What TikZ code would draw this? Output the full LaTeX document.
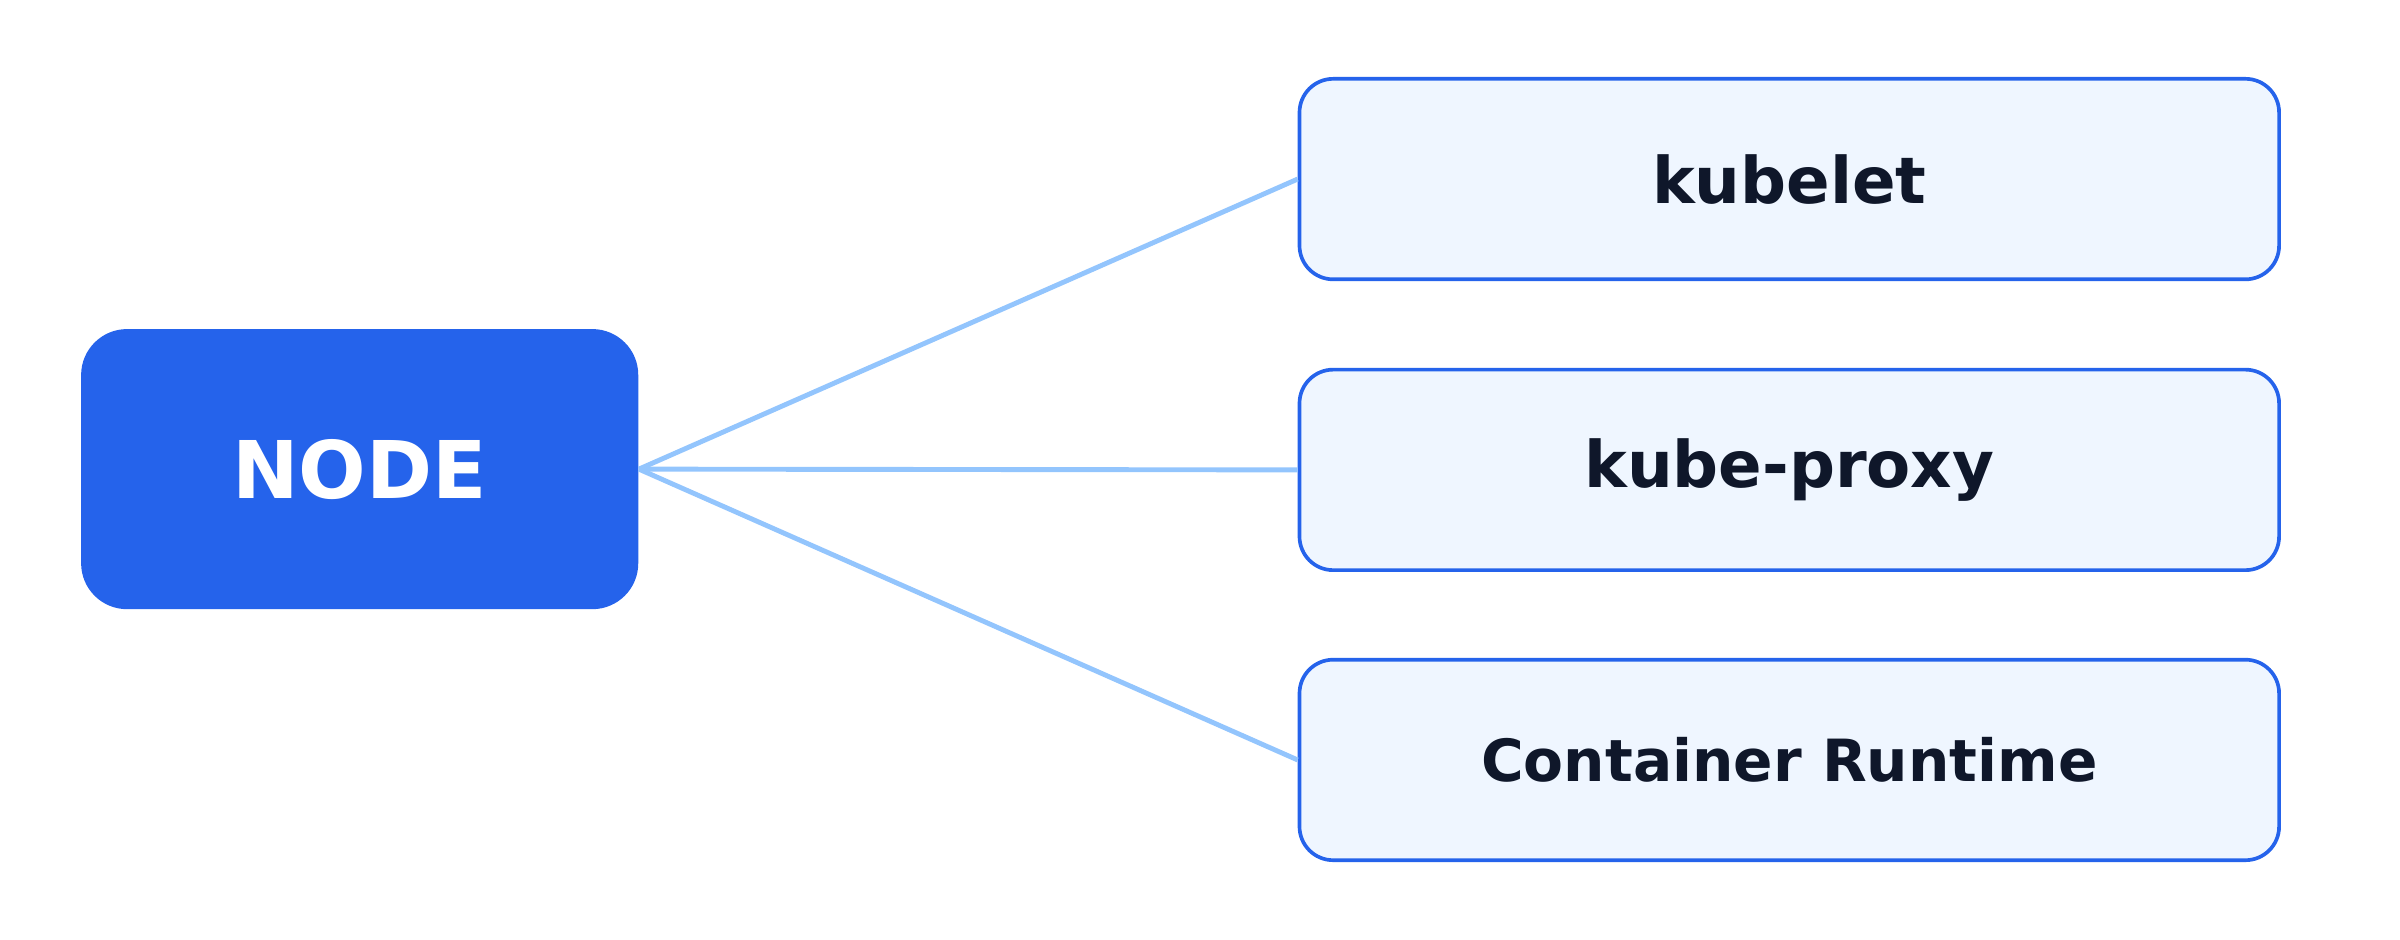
\documentclass[tikz,border=0pt]{standalone}
\usepackage{fontspec}
\setmainfont{DejaVu Sans}
\usetikzlibrary{positioning}
\definecolor{nodeblue}{HTML}{2563EB}
\definecolor{boxfill}{HTML}{EFF6FF}
\definecolor{linkblue}{HTML}{93C5FD}
\definecolor{inkdark}{HTML}{0F172A}

\tikzset{
  main/.style={draw=none, fill=nodeblue, rounded corners=15pt,
    minimum width=182pt, minimum height=91.5pt, text=white,
    font=\bfseries\fontsize{26}{30}\selectfont},
  part/.style={draw=nodeblue, line width=1.2pt, fill=boxfill, rounded corners=11pt,
    minimum width=320pt, minimum height=65.5pt, text=inkdark,
    font=\bfseries\fontsize{21}{25}\selectfont},
  link/.style={draw=linkblue, line width=1.6pt}
}

\begin{document}
\begin{tikzpicture}[x=0.5pt, y=-0.5pt]
  \useasboundingbox (0,0) rectangle (1568,614);

  % Node
  \node[main] (node) at (235,306.5) {NODE};

  % Components
  \node[part] (kubelet) at (1169,117) {kubelet};
  \node[part] (proxy) at (1169,307) {kube-proxy};
  \node[part, font=\bfseries\fontsize{19}{23}\selectfont] (runtime) at (1169,496.5) {Container Runtime};

  % Links
  \draw[link] (node.east) -- (kubelet.west);
  \draw[link] (node.east) -- (proxy.west);
  \draw[link] (node.east) -- (runtime.west);
\end{tikzpicture}
\end{document}
